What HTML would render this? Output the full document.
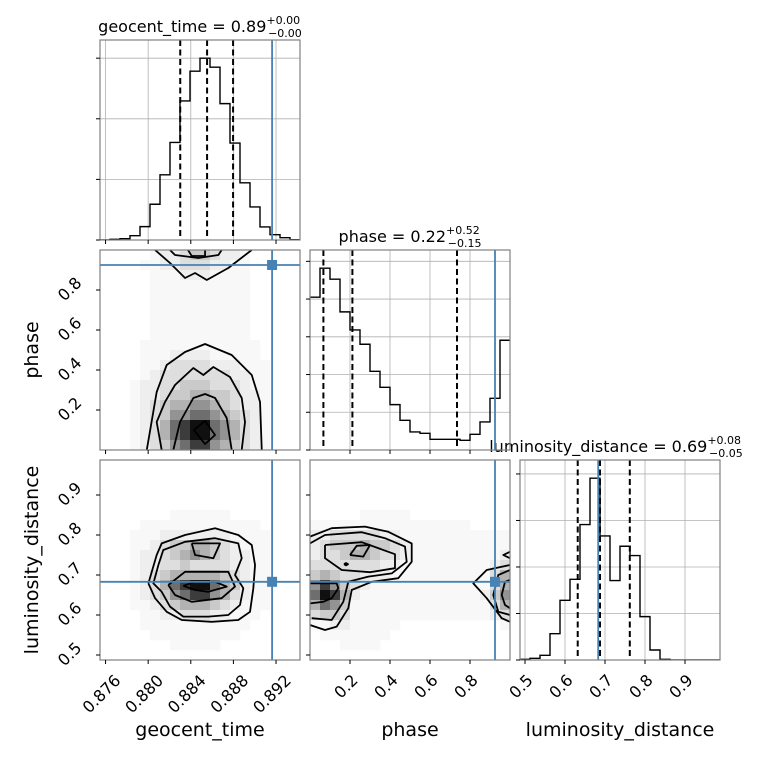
<!DOCTYPE html>
<html><head><meta charset="utf-8">
<style>
html,body{margin:0;padding:0;background:#fff;}
svg{display:block;font-family:"DejaVu Sans","Liberation Sans",sans-serif;}
</style></head>
<body>
<svg id="chart" width="760" height="760" viewBox="0 0 760 760" xmlns="http://www.w3.org/2000/svg">
<rect width="760" height="760" fill="#fff"/>
<text x="200" y="32" text-anchor="middle" font-size="16">geocent_time = 0.89<tspan font-size="11" dy="-8">+0.00</tspan><tspan font-size="11" dx="-32" dy="13">−0.00</tspan></text>
<text x="410" y="242" text-anchor="middle" font-size="16">phase = 0.22<tspan font-size="11" dy="-8">+0.52</tspan><tspan font-size="11" dx="-32" dy="13">−0.15</tspan></text>
<text x="616" y="452" text-anchor="middle" font-size="16">luminosity_distance = 0.69<tspan font-size="11" dy="-8">+0.08</tspan><tspan font-size="11" dx="-32" dy="13">−0.05</tspan></text>
<text x="200" y="736" text-anchor="middle" font-size="19">geocent_time</text>
<text x="410" y="736" text-anchor="middle" font-size="19">phase</text>
<text x="620" y="736" text-anchor="middle" font-size="19">luminosity_distance</text>
<text transform="translate(38,350) rotate(-90)" text-anchor="middle" font-size="19">phase</text>
<text transform="translate(38,560) rotate(-90)" text-anchor="middle" font-size="19">luminosity_distance</text>
</svg>
<script>
// ---------- data ----------
const geoTicks = [0.876, 0.880, 0.884, 0.888, 0.892];
const geoTickLabels = ["0.876", "0.880", "0.884", "0.888", "0.892"];
const phaseTicks = [0.2, 0.4, 0.6, 0.8];
const phaseTickLabels = ["0.2", "0.4", "0.6", "0.8"];
const lumTicks = [0.5, 0.6, 0.7, 0.8, 0.9];
const lumTickLabels = ["0.5", "0.6", "0.7", "0.8", "0.9"];

const geoHist = [0,2,4,13,40,107,195,292,416,505,544,517,408,290,171,99,39,16,7,1];
const phaseHist = [458,545,512,414,360,317,236,188,136,89,54,50,32,32,32,29,47,84,155,329];
const lumHist = [2,5,14,79,179,242,406,545,372,238,341,313,130,30,2,0,0,0,0,0];

const geoQuantiles = [0.88301, 0.88553, 0.88797];
const phaseQuantiles = [0.067, 0.212, 0.735];
const lumQuantiles = [0.6318, 0.6875, 0.762];

const truthGeo = 0.89163;
const truthPhase = 0.925;
const truthLum = 0.683;

// 2D density levels (rows top->bottom, 20 bins each axis)
const densGeoPhase = [
"00000122344322100000","00001122333221100000","00000111222111100000","00000111111111100000",
"00000111111111100000","00000111111111100000","00000111111111100000","00000111111111100000",
"00000111111111100000","00001111111111110000","00001112222111110000","00001123333222111000",
"00001233333332211000","00012233444333211000","00012234455443221000","00012345566543221000",
"00012346677654321000","00012357899765321000","00012357899765321000","00012346788654321000"];
const densGeoLum = [
"00000000000000000000","00000000000000000000","00000000000000000000","00000000000000000000",
"00000000000000000000","00000001111110000000","00001111111111110000","00011122222221111000",
"00011234455432111000","00012234565432211000","00012233433332211000","00012345555543211000",
"00012357899754211000","00012346788653211000","00011234555432111000","00001122333221110000",
"00001111111111100000","00000111111111000000","00000001111100000000","00000000000000000000"];
const densPhaseLum = [
"00000000000000000000","00000000000000000000","00000000000000000000","00000000000000000000",
"00000000000000000000","00000111110000000000","11111111111111110000","22333332211111111111",
"23444544321111111111","23345543321111111112","33333332211111111123","45433222111111111135",
"68643211111111111135","79852111111111111246","57641111111111111135","34431111111111111123",
"11221111100000000001","01111111000000000000","00011110000000000000","00000000000000000000"];

// contours [x, y] in data units
const contGeoPhase = [
 [[0.87987,0],[0.88080,0.29],[0.88174,0.425],[0.88346,0.49],[0.88534,0.53],[0.88784,0.475],[0.88972,0.375],[0.89050,0.24],[0.89066,0]],
 [[0.88127,0],[0.88080,0.14],[0.88158,0.24],[0.88252,0.325],[0.88424,0.41],[0.88518,0.375],[0.88612,0.415],[0.88768,0.365],[0.88878,0.26],[0.88909,0.14],[0.88878,0]],
 [[0.88236,0],[0.88299,0.14],[0.88424,0.26],[0.88534,0.28],[0.88628,0.26],[0.88737,0.16],[0.88784,0]],
 [[0.88428,0.10],[0.88534,0.145],[0.88628,0.075],[0.88534,0.03],[0.88428,0.10]],
 [[0.88065,1.0],[0.88205,0.935],[0.88346,0.86],[0.88440,0.885],[0.88550,0.85],[0.88752,0.91],[0.88972,1.0]],
 [[0.88205,1.0],[0.88252,0.975],[0.88471,0.96],[0.88659,0.975],[0.88690,1.0]],
 [[0.88374,1.0],[0.88409,0.97],[0.88534,0.97],[0.88534,1.0]]
];
const contGeoLum = [
 [[0.88002,0.679],[0.88080,0.75],[0.88127,0.779],[0.88346,0.80],[0.88628,0.817],[0.88846,0.80],[0.88972,0.775],[0.89003,0.725],[0.88987,0.667],[0.88956,0.608],[0.88846,0.5875],[0.88597,0.583],[0.88315,0.5875],[0.88174,0.608],[0.88065,0.642],[0.88002,0.679]],
 [[0.88096,0.725],[0.88142,0.7625],[0.88346,0.783],[0.88628,0.792],[0.88846,0.779],[0.88878,0.742],[0.88815,0.70],[0.88893,0.667],[0.88862,0.625],[0.88752,0.60],[0.88565,0.596],[0.88330,0.596],[0.88205,0.621],[0.88127,0.658],[0.88049,0.679],[0.88096,0.725]],
 [[0.88409,0.779],[0.88675,0.779],[0.88612,0.742],[0.88440,0.75],[0.88409,0.779]],
 [[0.88189,0.675],[0.88346,0.708],[0.88752,0.708],[0.88815,0.671],[0.88690,0.642],[0.88409,0.633],[0.88252,0.65],[0.88189,0.675]],
 [[0.88330,0.673],[0.88440,0.683],[0.88628,0.683],[0.88737,0.671],[0.88565,0.658],[0.88440,0.6625],[0.88330,0.673]]
];
const contPhaseLum = [
 [[0,0.796],[0.1085,0.817],[0.275,0.821],[0.3915,0.808],[0.5085,0.779],[0.5085,0.733],[0.4415,0.692],[0.3085,0.683],[0.2085,0.6625],[0.1915,0.617],[0.1335,0.571],[0.075,0.5625],[0,0.575]],
 [[0,0.779],[0.075,0.80],[0.2585,0.807],[0.375,0.792],[0.475,0.771],[0.4835,0.733],[0.4085,0.704],[0.2915,0.696],[0.1915,0.683],[0.1665,0.633],[0.1085,0.5875],[0.0085,0.592]],
 [[0.075,0.775],[0.2585,0.782],[0.425,0.752],[0.425,0.717],[0.30,0.707],[0.1585,0.7125],[0.075,0.742],[0.075,0.775]],
 [[0,0.679],[0.1335,0.679],[0.1415,0.667],[0.1085,0.642],[0.0665,0.633],[0,0.629]],
 [[0.20,0.75],[0.2335,0.773],[0.30,0.775],[0.2665,0.746],[0.20,0.75]],
 [[0.17,0.727],[0.18,0.73],[0.19,0.727],[0.18,0.724],[0.17,0.727]],
 [[1.0,0.583],[0.9585,0.592],[0.8835,0.642],[0.8165,0.679],[0.8835,0.7125],[1.0,0.725]],
 [[1.0,0.60],[0.9415,0.608],[0.9165,0.65],[0.9415,0.70],[1.0,0.7125]],
 [[1.0,0.617],[0.975,0.625],[0.9585,0.65],[0.975,0.683],[1.0,0.6875]],
 [[1.0,0.758],[0.9665,0.75],[1.0,0.742]]
];

// ---------- scales ----------
const NS = "http://www.w3.org/2000/svg";
const svg = document.getElementById("chart");
const geoDom = [0.87548, 0.89425], phaseDom = [0, 1], lumDom = [0.4875, 0.9875];
function scale(dom, r0, r1){ return v => r0 + (v - dom[0]) / (dom[1] - dom[0]) * (r1 - r0); }
const COLS = [100, 310, 520], ROWS = [40, 250, 460], S = 200;
const xGeo = scale(geoDom, 100, 300), xPhase = scale(phaseDom, 310, 510), xLum = scale(lumDom, 520, 720);
const yPhase = scale(phaseDom, 450, 250), yLum = scale(lumDom, 660, 460);
const BLUE = "#4682b4";
const grays = ["#ffffff","#f8f8f8","#eeeeee","#dedede","#cacaca","#b2b2b2","#939393","#6e6e6e","#3c3c3c","#101010"];

function el(tag, attrs, parent){
  const e = document.createElementNS(NS, tag);
  for (const k in attrs) e.setAttribute(k, attrs[k]);
  (parent || svg).appendChild(e);
  return e;
}
function line(x1,y1,x2,y2,stroke,w,parent,dash){
  const l = el("line",{x1,y1,x2,y2,stroke,"stroke-width":w},parent);
  if (dash) l.setAttribute("stroke-dasharray", dash);
  return l;
}
let clipId = 0;
function panelGroup(x0,y0,name){
  const id = "clip" + (clipId++);
  const cp = el("clipPath",{id});
  el("rect",{x:x0,y:y0,width:S,height:S},cp);
  const g = el("g",{"clip-path":"url(#"+id+")"});
  
  
  return g;
}
function frame(x0,y0,name){
  const r = el("rect",{x:x0,y:y0,width:S,height:S,fill:"none",stroke:"#808080","stroke-width":1.2});
  
  
}
function xTicks(ticks, labels, sx, y0, showLabels){
  ticks.forEach((t,i)=>{
    const x = sx(t);
    const tk = line(x,y0,x,y0+4,"#000",1);
    
    
    if (showLabels){
      const w = labels[i].length * 9;
      const cx = x - 4, cy = 675 + w*0.42;
      const tx = el("text",{x:cx,y:cy,"text-anchor":"middle","dominant-baseline":"central","font-size":16,transform:"rotate(-45 "+cx+" "+cy+")"});
      tx.textContent = labels[i];
      
      
    }
  });
}
function yTicks(ticks, labels, sy, x0, showLabels){
  ticks.forEach((t,i)=>{
    const y = sy(t);
    const tk = line(x0-4,y,x0,y,"#000",1);
    
    
    if (showLabels){
      const w = labels[i].length * 9;
      const cx = 81 - w*0.42, cy = y - 1;
      const tx = el("text",{x:cx,y:cy,"text-anchor":"middle","dominant-baseline":"central","font-size":16,transform:"rotate(-45 "+cx+" "+cy+")"});
      tx.textContent = labels[i];
      
      
    }
  });
}

// ---------- 1D histograms ----------
function hist1d(col, row, counts, sx, dom, ticks, quant, truth, nyt, name){
  const x0 = COLS[col], y0 = ROWS[row];
  const g = panelGroup(x0, y0, name);
  const ymax = Math.max(...counts) * 1.1;
  const sy = v => y0 + S - v / ymax * S;
  const step = ymax / (nyt + 0.3);
  const yt = [];
  for (let k = 0; k <= nyt; k++) yt.push(k*step);
  ticks.forEach(t=>{ const l=line(sx(t),y0,sx(t),y0+S,"#b0b0b0",0.8,g);   });
  yt.forEach(t=>{ const l=line(x0,sy(t),x0+S,sy(t),"#b0b0b0",0.8,g);   });
  const n = counts.length, bw = (dom[1]-dom[0]) / n;
  let d = "";
  counts.forEach((c,i)=>{
    const xa = sx(dom[0] + i*bw), xb = sx(dom[0] + (i+1)*bw), y = sy(c);
    d += (i===0 ? "M"+xa+","+y : "L"+xa+","+y) + " L"+xb+","+y+" ";
  });
  const p = el("path",{d,fill:"none",stroke:"#000","stroke-width":1.4},g);
  
  
  quant.forEach(q=>{
    const l = line(sx(q),y0,sx(q),y0+S,"#000",2,g,"6,3.5");
    
    
  });
  const tl = line(sx(truth),y0,sx(truth),y0+S,BLUE,1.8,g);
  
  
  frame(x0,y0,name+"-frame");
  yt.forEach(t=>{ const tk=line(x0-4,sy(t),x0,sy(t),"#000",1);   });
}
hist1d(0,0,geoHist,xGeo,geoDom,geoTicks,geoQuantiles,truthGeo,3,"geocent-time-histogram");
hist1d(1,1,phaseHist,xPhase,phaseDom,phaseTicks,phaseQuantiles,truthPhase,5,"phase-histogram");
hist1d(2,2,lumHist,xLum,lumDom,lumTicks,lumQuantiles,truthLum,4,"luminosity-distance-histogram");
xTicks(geoTicks, geoTickLabels, xGeo, 240, false);
xTicks(phaseTicks, phaseTickLabels, xPhase, 450, false);
xTicks(lumTicks, lumTickLabels, xLum, 660, true);

// ---------- 2D panels ----------
function panel2d(col,row,dens,xDom,yDom,sx,sy,conts,tx,ty,name){
  const x0 = COLS[col], y0 = ROWS[row];
  const g = panelGroup(x0,y0,name);
  const nr = dens.length, nc = dens[0].length;
  const bx = (xDom[1]-xDom[0])/nc, by = (yDom[1]-yDom[0])/nr;
  for (let r=0;r<nr;r++) for (let c=0;c<nc;c++){
    const lv = +dens[r][c];
    if (!lv) continue;
    const xa = sx(xDom[0]+c*bx), xb = sx(xDom[0]+(c+1)*bx);
    const ya = sy(yDom[1]-r*by), yb = sy(yDom[1]-(r+1)*by);
    const cell = el("rect",{x:xa,y:ya,width:xb-xa+0.3,height:yb-ya+0.3,fill:grays[lv]},g);
    
    
  }
  conts.forEach(ct=>{
    const d = ct.map((p,i)=>(i?"L":"M")+sx(p[0])+","+sy(p[1])).join(" ");
    const p = el("path",{d,fill:"none",stroke:"#000","stroke-width":1.8,"stroke-linejoin":"round"},g);
    
    
  });
  const vl = line(sx(tx),y0,sx(tx),y0+S,BLUE,1.8,g);
  
  
  const hl = line(x0,sy(ty),x0+S,sy(ty),BLUE,1.8,g);
  
  
  const m = el("rect",{x:sx(tx)-5,y:sy(ty)-5,width:10,height:10,fill:BLUE},g);
  
  
  frame(x0,y0,name+"-frame");
}
panel2d(0,1,densGeoPhase,geoDom,phaseDom,xGeo,yPhase,contGeoPhase,truthGeo,truthPhase,"geocent-time-vs-phase");
panel2d(0,2,densGeoLum,geoDom,lumDom,xGeo,yLum,contGeoLum,truthGeo,truthLum,"geocent-time-vs-luminosity-distance");
panel2d(1,2,densPhaseLum,phaseDom,lumDom,xPhase,yLum,contPhaseLum,truthPhase,truthLum,"phase-vs-luminosity-distance");
xTicks(geoTicks, geoTickLabels, xGeo, 450, false);
xTicks(geoTicks, geoTickLabels, xGeo, 660, true);
xTicks(phaseTicks, phaseTickLabels, xPhase, 660, true);
yTicks(phaseTicks, phaseTickLabels, yPhase, 100, true);
yTicks(lumTicks, lumTickLabels, yLum, 100, true);
yTicks(lumTicks, lumTickLabels, yLum, 310, false);
</script>
</body></html>
